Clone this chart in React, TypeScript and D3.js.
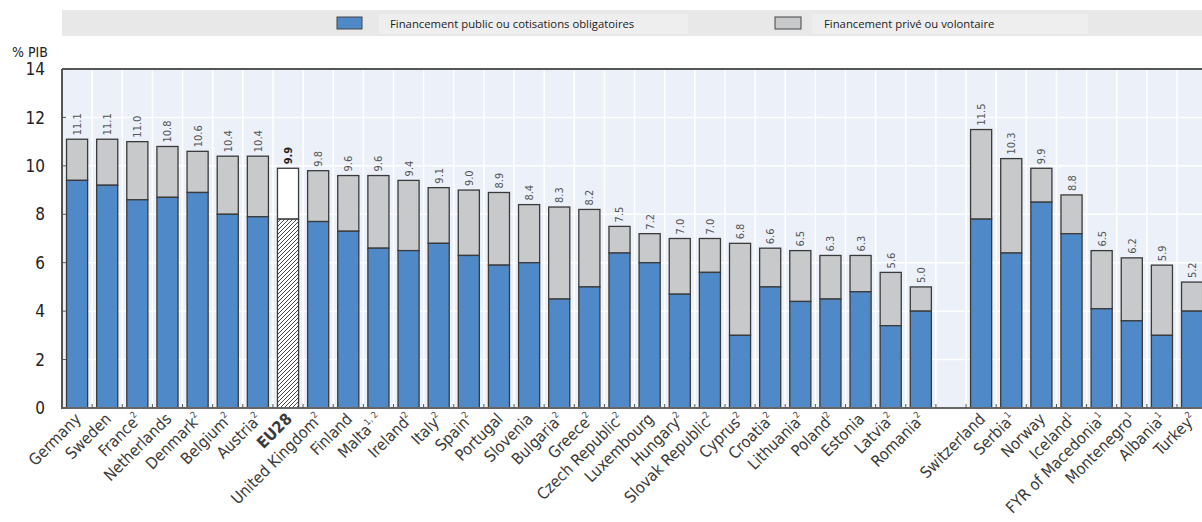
import React, { useEffect, useRef } from "react";
import * as d3 from "d3";

// EU countries (incl. EU28 average), then non-EU countries
const euCountries = [
  "Germany", "Sweden", "France", "Netherlands", "Denmark", "Belgium", "Austria",
  "EU28", "United Kingdom", "Finland", "Malta", "Ireland", "Italy", "Spain",
  "Portugal", "Slovenia", "Bulgaria", "Greece", "Czech Republic", "Luxembourg",
  "Hungary", "Slovak Republic", "Cyprus", "Croatia", "Lithuania", "Poland",
  "Estonia", "Latvia", "Romania",
];
const euNotes = [
  "", "", "2", "", "2", "2", "2", "", "2", "", "1, 2", "2", "2", "2", "", "", "2",
  "2", "2", "", "2", "2", "2", "2", "2", "2", "", "2", "2",
];
const euPublic = [
  9.4, 9.2, 8.6, 8.7, 8.9, 8.0, 7.9, 7.8, 7.7, 7.3, 6.6, 6.5, 6.8, 6.3, 5.9, 6.0,
  4.5, 5.0, 6.4, 6.0, 4.7, 5.6, 3.0, 5.0, 4.4, 4.5, 4.8, 3.4, 4.0,
];
const euTotal = [
  11.1, 11.1, 11.0, 10.8, 10.6, 10.4, 10.4, 9.9, 9.8, 9.6, 9.6, 9.4, 9.1, 9.0,
  8.9, 8.4, 8.3, 8.2, 7.5, 7.2, 7.0, 7.0, 6.8, 6.6, 6.5, 6.3, 6.3, 5.6, 5.0,
];

const otherCountries = [
  "Switzerland", "Serbia", "Norway", "Iceland", "FYR of Macedonia",
  "Montenegro", "Albania", "Turkey",
];
const otherNotes = ["", "1", "", "1", "1", "1", "1", "2"];
const otherPublic = [7.8, 6.4, 8.5, 7.2, 4.1, 3.6, 3.0, 4.0];
const otherTotal = [11.5, 10.3, 9.9, 8.8, 6.5, 6.2, 5.9, 5.2];

const yTicks = [0, 2, 4, 6, 8, 10, 12, 14];
const legendLabels = [
  "Financement public ou cotisations obligatoires",
  "Financement privé ou volontaire",
];

interface Row {
  name: string;
  note: string;
  pub: number;
  total: number;
}

const GAP = "__gap";
const BLUE = "#4f89c8";
const GREY = "#c8c9cb";
const STROKE = "#3a3a3a";
const NARROW = "'Liberation Sans Narrow', 'Arial Narrow', 'DejaVu Sans Condensed', sans-serif";

const WIDTH = 1202;
const HEIGHT = 522;

const drawChart = (svgEl: SVGSVGElement) => {
  const rows: Row[] = [
    ...euCountries.map((name, i) => ({ name, note: euNotes[i], pub: euPublic[i], total: euTotal[i] })),
    ...otherCountries.map((name, i) => ({ name, note: otherNotes[i], pub: otherPublic[i], total: otherTotal[i] })),
  ];
  const domain = [...euCountries, GAP, ...otherCountries];

  const left = 62;
  const top = 69;
  const bottom = 408;
  const step = 30.135;

  const x = d3
    .scaleBand<string>()
    .domain(domain)
    .range([left, left + domain.length * step])
    .paddingInner(0.3)
    .paddingOuter(0.15);

  const y = d3.scaleLinear().domain([0, 14]).range([bottom, top]);

  const svg = d3.select(svgEl);
  svg.selectAll("*").remove();

  const defs = svg.append("defs");
  const pat = defs
    .append("pattern")
    .attr("id", "hatch")
    .attr("patternUnits", "userSpaceOnUse")
    .attr("width", 4)
    .attr("height", 4);
  pat.append("rect").attr("width", 4).attr("height", 4).attr("fill", "#fff");
  pat
    .append("path")
    .attr("d", "M-1,1 l2,-2 M0,4 l4,-4 M3,5 l2,-2")
    .attr("stroke", "#333")
    .attr("stroke-width", 0.9);

  // Legend band
  const lg = svg.append("g");
  lg.append("rect").attr("x", left).attr("y", 10).attr("width", WIDTH - left).attr("height", 26).attr("fill", "#e8e8e8");
  lg.append("rect").attr("x", 379).attr("y", 14).attr("width", 309).attr("height", 20).attr("fill", "#eeeeee");
  lg.append("rect").attr("x", 812).attr("y", 14).attr("width", 276).attr("height", 20).attr("fill", "#eeeeee");
  lg.append("rect").attr("x", 337).attr("y", 17).attr("width", 25).attr("height", 12).attr("fill", BLUE).attr("stroke", "#444").attr("stroke-width", 1);
  lg.append("rect").attr("x", 775).attr("y", 17).attr("width", 26).attr("height", 12).attr("fill", GREY).attr("stroke", "#444").attr("stroke-width", 1);
  lg.append("text").attr("x", 390).attr("y", 27.5).attr("font-family", "'Open Sans', sans-serif").attr("font-size", 11.3).attr("fill", "#222").text(legendLabels[0]);
  lg.append("text").attr("x", 824).attr("y", 27.5).attr("font-family", "'Open Sans', sans-serif").attr("font-size", 11.3).attr("fill", "#222").text(legendLabels[1]);

  // Plot background
  svg.append("rect").attr("x", left).attr("y", top).attr("width", WIDTH - left).attr("height", bottom - top).attr("fill", "#ebf0f9");

  // Grid
  const grid = svg.append("g").attr("stroke", "#fff").attr("stroke-width", 1.5);
  yTicks.filter((t) => t > 0 && t < 14).forEach((t) => {
    grid.append("line").attr("x1", left).attr("x2", WIDTH).attr("y1", y(t)).attr("y2", y(t));
  });
  domain.forEach((d, i) => {
    if (i === 0) return;
    const gx = left + i * x.step();
    grid.append("line").attr("x1", gx).attr("x2", gx).attr("y1", top).attr("y2", bottom);
  });

  // Bars
  const bw = x.bandwidth();
  const bars = svg.append("g");
  rows.forEach((r) => {
    const bx = x(r.name)!;
    const eu = r.name === "EU28";
    bars
      .append("rect")
      .attr("x", bx)
      .attr("y", y(r.total))
      .attr("width", bw)
      .attr("height", y(r.pub) - y(r.total))
      .attr("fill", eu ? "#fff" : GREY)
      .attr("stroke", STROKE)
      .attr("stroke-width", 1.3);
    bars
      .append("rect")
      .attr("x", bx)
      .attr("y", y(r.pub))
      .attr("width", bw)
      .attr("height", y(0) - y(r.pub))
      .attr("fill", eu ? "url(#hatch)" : BLUE)
      .attr("stroke", STROKE)
      .attr("stroke-width", 1.3);

    // value label
    const cx = bx + bw / 2;
    const ly = y(r.total) - 4;
    bars
      .append("text")
      .attr("transform", `translate(${cx + 4},${ly}) rotate(-90)`)
      .attr("font-family", NARROW)
      .attr("font-size", 11)
      .attr("font-weight", eu ? "bold" : "normal")
      .attr("fill", eu ? "#222" : "#555")
      .text(r.total.toFixed(1));

    // category label
    const t = bars
      .append("text")
      .attr("transform", `translate(${cx + 5},${bottom + 12}) rotate(-45)`)
      .attr("text-anchor", "end")
      .attr("font-family", NARROW)
      .attr("font-size", 16)
      .attr("font-weight", eu ? "bold" : "normal")
      .attr("fill", "#3a3a3a");
    t.append("tspan").text(r.name);
    if (r.note) {
      t.append("tspan").attr("font-size", 9).attr("dy", -7).text(r.note);
    }
  });

  // Frame & axes
  const axis = svg.append("g").attr("stroke", "#555").attr("fill", "none");
  axis.append("line").attr("x1", left).attr("x2", WIDTH).attr("y1", top).attr("y2", top).attr("stroke-width", 2);
  axis.append("line").attr("x1", left).attr("x2", left).attr("y1", top).attr("y2", bottom + 1).attr("stroke-width", 2);
  axis.append("line").attr("x1", left).attr("x2", WIDTH).attr("y1", bottom).attr("y2", bottom).attr("stroke", "#666").attr("stroke-width", 2);
  domain.forEach((d, i) => {
    if (i === 0) return;
    const gx = left + i * x.step();
    axis.append("line").attr("x1", gx).attr("x2", gx).attr("y1", bottom).attr("y2", bottom - 4).attr("stroke-width", 1);
  });
  yTicks.forEach((t) => {
    axis.append("line").attr("x1", left).attr("x2", left + 4).attr("y1", y(t)).attr("y2", y(t)).attr("stroke-width", 1);
  });

  const yl = svg.append("g");
  yTicks.forEach((t) => {
    yl.append("text")
      .attr("x", 45)
      .attr("y", y(t))
      .attr("dy", "0.36em")
      .attr("text-anchor", "end")
      .attr("font-family", NARROW)
      .attr("font-size", 17)
      .attr("fill", "#222")
      .text(t);
  });
  yl.append("text")
    .attr("x", 12)
    .attr("y", 57)
    .attr("font-family", NARROW)
    .attr("font-size", 14)
    .attr("fill", "#222")
    .text("% PIB");
};

const App: React.FC = () => {
  const svgRef = useRef<SVGSVGElement>(null);

  useEffect(() => {
    if (svgRef.current) drawChart(svgRef.current);
  }, []);

  return (
    <div style={{ position: "fixed", left: 0, top: 0, width: WIDTH, height: HEIGHT, background: "#fff", overflow: "hidden" }}>
      <svg ref={svgRef} width={WIDTH} height={HEIGHT} />
    </div>
  );
};

export default App;
